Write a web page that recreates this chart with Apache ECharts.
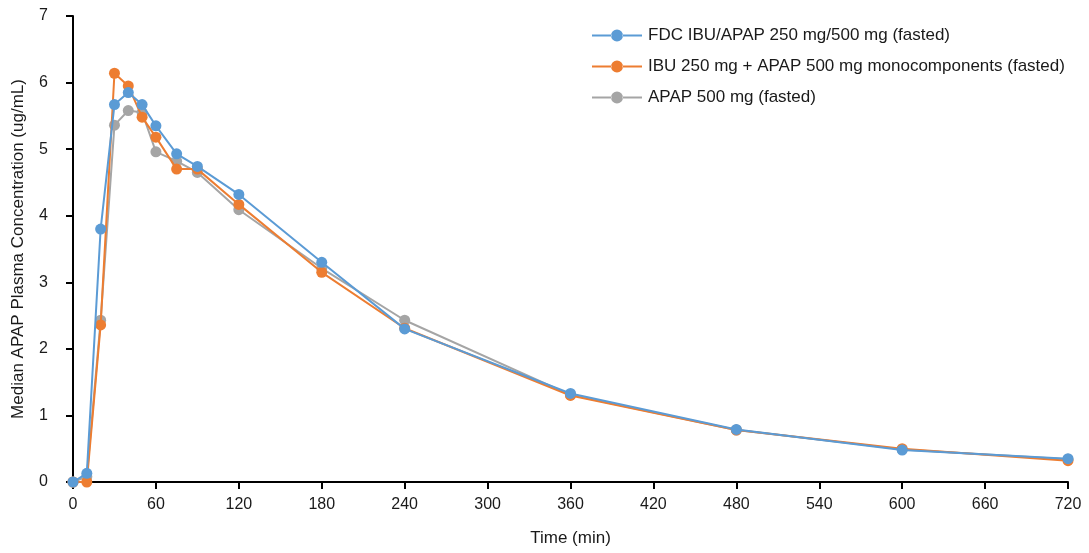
<!DOCTYPE html>
<html>
<head>
<meta charset="utf-8">
<script src="https://cdn.jsdelivr.net/npm/echarts@6/dist/echarts.min.js"></script>
<style>html,body{margin:0;padding:0;background:#fff}#c{width:1089px;height:553px}</style>
</head>
<body>
<div id="c"></div>
<script>
const times = [0, 10, 20, 30, 40, 50, 60, 75, 90, 120, 180, 240, 360, 480, 600, 720];
const fdc = [0, 0.13, 3.80, 5.67, 5.85, 5.67, 5.35, 4.93, 4.74, 4.32, 3.30, 2.30, 1.33, 0.79, 0.48, 0.35];
const mono = [0, 0, 2.36, 6.14, 5.95, 5.48, 5.18, 4.70, 4.70, 4.17, 3.15, 2.31, 1.30, 0.78, 0.50, 0.32];
const apap = [0, 0.08, 2.43, 5.36, 5.58, 5.55, 4.96, 4.82, 4.65, 4.09, 3.21, 2.43, 1.31, 0.78, 0.49, 0.34];
const seriesNames = ['FDC IBU/APAP 250 mg/500 mg (fasted)', 'IBU 250 mg + APAP 500 mg monocomponents (fasted)', 'APAP 500 mg (fasted)'];
const colors = ['#5B9BD5', '#ED7D31', '#A5A5A5'];
const xTicks = [0, 60, 120, 180, 240, 300, 360, 420, 480, 540, 600, 660, 720];

const font = 'Liberation Sans, Arial, sans-serif';
const txt = '#1a1a1a';
const pair = (vals) => times.map((t, i) => [t, vals[i]]);
const mk = (name, vals, color, z) => ({
  name, type: 'line', data: pair(vals), z,
  symbol: 'circle', symbolSize: 11, showSymbol: true,
  lineStyle: { color, width: 2 }, itemStyle: { color },
  emphasis: { disabled: true }, animation: false
});

const chart = echarts.init(document.getElementById('c'));
chart.setOption({
  animation: false,
  color: colors,
  grid: { left: 73, right: 21, top: 16, bottom: 71, containLabel: false, outerBoundsMode: 'none' },
  legend: {
    data: seriesNames, orient: 'vertical', left: 587, top: 22,
    itemWidth: 50, itemHeight: 12, itemGap: 14,
    icon: 'path://M0,5 L19.5,5 L19.5,7 L0,7 Z M30.5,5 L50,5 L50,7 L30.5,7 Z M19,6 A6,6 0 1,0 31,6 A6,6 0 1,0 19,6 Z',
    textStyle: { fontFamily: font, fontSize: 17, color: txt, padding: [0, 0, 0, 1] }
  },
  xAxis: {
    type: 'value', min: 0, max: 720, interval: 60,
    name: 'Time (min)', nameLocation: 'middle', nameGap: 48,
    nameTextStyle: { fontFamily: font, fontSize: 17, color: txt },
    axisLine: { lineStyle: { color: '#000', width: 2 } },
    axisTick: { show: true, length: 7, lineStyle: { color: '#000', width: 2 } },
    axisLabel: { fontFamily: font, fontSize: 16, color: txt, margin: 15,
      formatter: v => xTicks.includes(v) ? String(v) : '' },
    splitLine: { show: false }
  },
  yAxis: {
    type: 'value', min: 0, max: 7, interval: 1,
    name: 'Median APAP Plasma Concentration (ug/mL)', nameLocation: 'middle', nameGap: 46,
    nameTextStyle: { fontFamily: font, fontSize: 17, color: txt },
    axisLine: { show: true, lineStyle: { color: '#000', width: 2 } },
    axisTick: { show: true, length: 7, lineStyle: { color: '#000', width: 2 } },
    axisLabel: { fontFamily: font, fontSize: 16, color: txt, margin: 25 },
    splitLine: { show: false }
  },
  series: [
    mk(seriesNames[2], apap, colors[2], 2),
    mk(seriesNames[1], mono, colors[1], 3),
    mk(seriesNames[0], fdc, colors[0], 4)
  ]
});
</script>
</body>
</html>
